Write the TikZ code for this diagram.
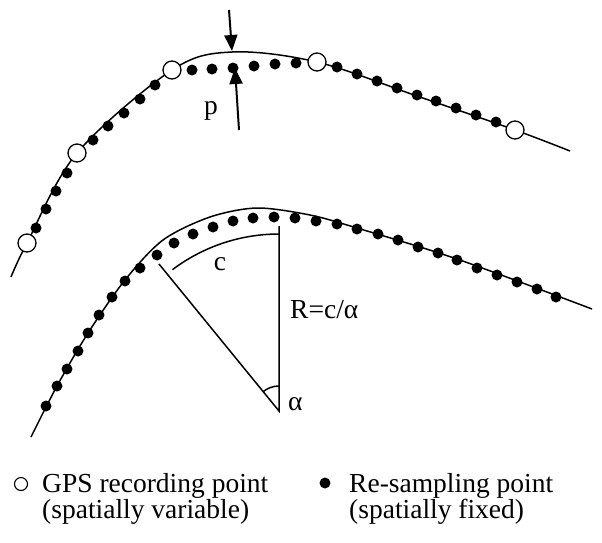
\documentclass[tikz,border=0pt]{standalone}
\usepackage{fontspec}
\setmainfont{Liberation Serif}
\usetikzlibrary{arrows.meta,positioning,calc}

\begin{document}
\begin{tikzpicture}[x=1pt,y=-1pt,% pixel-like units, y pointing down
					every node/.style={
						inner sep=0pt,
						font=\fontsize{27.5}{28}\selectfont
						},
					gps/.style={circle,draw=black,fill=white,line width=1.3pt,minimum size=18pt},	% recording point
					rsp/.style={circle,fill=black,minimum size=11pt},	% re-sampling point
					track/.style={line width=1.5pt},
					every edge/.style={draw,line width=2pt,-{Triangle[length=16pt,width=13pt]}}
					]
\useasboundingbox (0,0) rectangle (602,542);

% upper track
\draw[track] plot[smooth,tension=0.55] coordinates {(11,277) (27,243) (77,153) (172,70) (232,52) (317,62) (417,96) (515,130) (570,151)};
\foreach \p [count=\i] in {(36,228),(46,209),(56,191),(67,173),(93,140),(108,126),(124,113),(140,99),(155,85),
		(192,70),(212,69),(233,68),(254,66),(275,64),(296,63),
		(337,67),(357,74),(377,81),(397,88),(417,95),(436,101),(456,108),(476,115),(496,122)}
	\node[rsp] (U\i) at \p {};
\foreach \p [count=\i] in {(27,243),(77,153),(172,70),(317,62),(515,130)}
	\node[gps] (G\i) at \p {};

\coordinate (pA) at (229,10);
\coordinate (pB) at (232,51);
\coordinate (pC) at (239,130);
\coordinate (pD) at (235,68);
\path
(pA)edge [] (pB)
(pC)edge [] (pD)
;
\node[anchor=base] (lp) at (211,114) {p};

% lower track
\draw[track] plot[smooth,tension=0.5] coordinates {(31,437) (57,386) (88,333) (125,280) (163,240) (210,217) (257,208) (310,215) (357,228) (457,259) (592,309)};
\foreach \p [count=\i] in {(46,406),(57,386),(67,369),(78,351),(88,333),(99,315),(112,297),(125,281),(140,268),(157,255),
		(174,243),(193,234),(213,227),(233,221),(253,218),(274,217),(295,218),
		(316,221),(337,224),(357,229),(378,234),(398,240),(418,247),(438,253),(457,260),(477,268),(497,275),(517,282),(537,289),(556,297)}
	\node[rsp] (L\i) at \p {};

\coordinate (O) at (279,411);
\coordinate (Rtop) at (279,226);
\coordinate (Rside) at (159,264);
\draw[track] (Rside) -- (O) -- (Rtop);
\draw[track] (O) ++(-127:177) arc[start angle=-127,end angle=-90,radius=177];
\draw[track] (O) ++(-129.2:25) arc[start angle=-129.2,end angle=-90,radius=25];
\node[anchor=base] (lc) at (220,270) {c};
\node[anchor=base west] (lR) at (290,318) {R=c/α};
\node[anchor=base west] (la) at (288,410) {α};

% legend
\node[gps,line width=1.1pt,minimum size=13pt] (Lg) at (21,484) {};
\node[anchor=base west] (Lg1) at (42,492) {GPS recording point};
\node[anchor=base west] (Lg2) at (42,518) {(spatially variable)};
\node[rsp] (Lr) at (325,483) {};
\node[anchor=base west] (Lr1) at (349,492) {Re-sampling point};
\node[anchor=base west] (Lr2) at (349,518) {(spatially fixed)};
\end{tikzpicture}
\end{document}
